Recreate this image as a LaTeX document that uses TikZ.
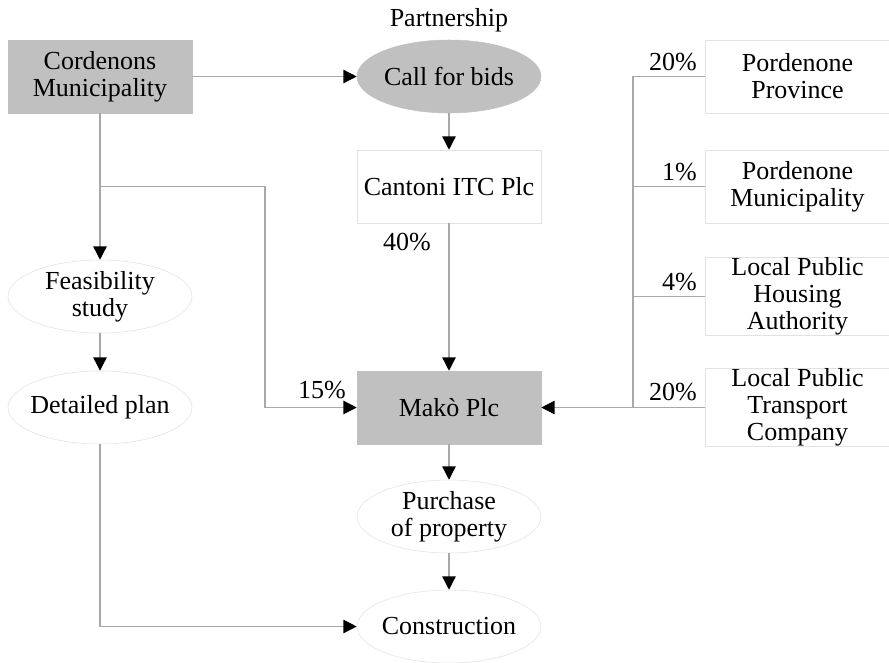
\documentclass[tikz,border=0pt]{standalone}
\usepackage{fontspec}
\setmainfont{Liberation Serif}
\usetikzlibrary{shapes.geometric,arrows.meta}
\definecolor{boxgray}{HTML}{C0C0C0}
\definecolor{linegray}{HTML}{A8A8A8}
\definecolor{edgegray}{HTML}{E2E2E2}
\begin{document}
\begin{tikzpicture}[x=0.75pt,y=-0.75pt,
  every node/.style={font=\fontsize{19.5}{20.3}\selectfont, text=black, align=center, inner sep=0pt},
  graybox/.style={rectangle, fill=boxgray, draw=boxgray, minimum width=138pt, minimum height=54.75pt},
  whitebox/.style={rectangle, fill=white, draw=edgegray, minimum width=138pt, minimum height=54.75pt},
  grayell/.style={ellipse, fill=boxgray, draw=boxgray, minimum width=138pt, minimum height=54.75pt, inner xsep=-15pt, inner ysep=-6pt},
  whiteell/.style={ellipse, fill=white, draw=edgegray, minimum width=138pt, minimum height=54.75pt, inner xsep=-15pt, inner ysep=-6pt},
  conn/.style={draw=linegray, line width=1pt},
  arr/.style={conn, -{Triangle[length=10pt,width=10pt,fill=black,color=black]}},
  pct/.style={anchor=base east}
]
\useasboundingbox (0,0) rectangle (889,662);
\node[graybox] (cord) at (100,76.5) {Cordenons\\Municipality};
\node (partner) at (449,20) {Partnership};
\node[grayell] (call) at (449,76.5) {Call for bids};
\node[whitebox] (cant) at (449,186.5) {Cantoni ITC Plc};
\node[graybox] (mako) at (449,407.5) {Makò Plc};
\node[whiteell] (feas) at (100,296.5) {Feasibility\\study};
\node[whiteell] (plan) at (100,407.5) {Detailed plan};
\node[whiteell] (purch) at (449,516.5) {Purchase\\of property};
\node[whiteell] (constr) at (449,626.5) {Construction};
\node[whitebox] (pprov) at (797.5,76.5) {Pordenone\\Province};
\node[whitebox] (pmun) at (797.5,186.5) {Pordenone\\Municipality};
\node[whitebox] (house) at (797.5,296.5) {Local Public\\Housing\\Authority};
\node[whitebox] (trans) at (797.5,407.5) {Local Public\\Transport\\Company};

\coordinate (bus) at (633,407.5);
\coordinate (branch) at (100,186.5);
\coordinate (bend1) at (265,186.5);
\coordinate (bend2) at (265,407.5);
\coordinate (bend3) at (100,626.5);

\draw[arr] (cord.east) -- (call.west);
\draw[arr] (call.south) -- (cant.north);
\draw[arr] (cant.south) -- (mako.north);
\draw[arr] (cord.south) -- (feas.north);
\draw[arr] (feas.south) -- (plan.north);
\draw[conn] (branch) -- (bend1) -- (bend2);
\draw[arr] (bend2) -- (mako.west);
\draw[conn] (plan.south) -- (bend3);
\draw[arr] (bend3) -- (constr.west);
\draw[arr] (mako.south) -- (purch.north);
\draw[arr] (purch.south) -- (constr.north);
\draw[conn] (pprov.west) -| (bus);
\draw[conn] (pmun.west) -- (pmun.west -| bus);
\draw[conn] (house.west) -- (house.west -| bus);
\draw[conn] (trans.west) -- (bus);
\draw[arr] (bus) -- (mako.east);

\node[pct] (p1) at (697,70) {20\%};
\node[pct] (p2) at (697,180) {1\%};
\node[pct] (p3) at (697,290) {4\%};
\node[pct] (p4) at (697,400) {20\%};
\node[pct] (p40) at (431,250) {40\%};
\node[pct] (p15) at (346,398) {15\%};
\end{tikzpicture}
\end{document}
